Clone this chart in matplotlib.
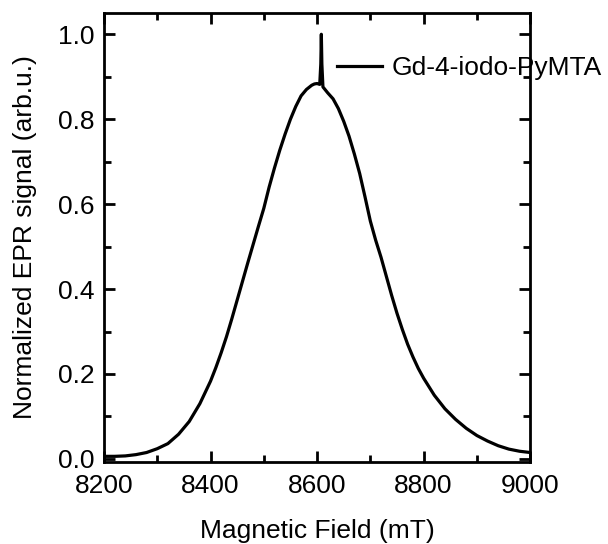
import matplotlib
matplotlib.use("Agg")
import matplotlib.pyplot as plt
from matplotlib.ticker import MultipleLocator

# values
field = [8200, 8220, 8240, 8260, 8280, 8300, 8320, 8340, 8360, 8380,
         8400, 8410, 8420, 8430, 8440, 8450, 8460, 8470, 8480, 8490,
         8500, 8510, 8520, 8530, 8540, 8550, 8560, 8570, 8580, 8590,
         8595, 8600, 8605, 8607, 8608, 8609, 8611, 8620, 8630, 8640,
         8650, 8660, 8670, 8680, 8690, 8700, 8710, 8720, 8730, 8740,
         8750, 8760, 8770, 8780, 8790, 8800, 8820, 8840, 8860, 8880,
         8900, 8920, 8940, 8960, 8980, 9000]
signal = [0.006, 0.006, 0.007, 0.010, 0.015, 0.024, 0.036, 0.058, 0.088, 0.130,
          0.183, 0.215, 0.250, 0.288, 0.330, 0.374, 0.418, 0.462, 0.505, 0.548,
          0.590, 0.640, 0.685, 0.727, 0.765, 0.800, 0.830, 0.855, 0.870, 0.880,
          0.883, 0.884, 0.882, 0.930, 1.000, 0.930, 0.876, 0.862, 0.848, 0.825,
          0.795, 0.760, 0.718, 0.672, 0.617, 0.560, 0.515, 0.475, 0.430, 0.385,
          0.343, 0.305, 0.270, 0.240, 0.213, 0.190, 0.150, 0.118, 0.093, 0.072,
          0.055, 0.042, 0.031, 0.023, 0.018, 0.015]
seriesName = "Gd-4-iodo-PyMTA"

plt.rcParams['font.family'] = ['Liberation Sans', 'DejaVu Sans']

fig = plt.figure(figsize=(6.08, 5.44), dpi=100)
ax = fig.add_axes([0.171, 0.151, 0.701, 0.825])

ax.plot(field, signal, color="black", linewidth=2.3, label=seriesName)

ax.set_xlim(8200, 9000)
ax.set_ylim(-0.007, 1.05)
ax.xaxis.set_major_locator(MultipleLocator(200))
ax.xaxis.set_minor_locator(MultipleLocator(100))
ax.yaxis.set_major_locator(MultipleLocator(0.2))
ax.yaxis.set_minor_locator(MultipleLocator(0.1))
ax.yaxis.set_major_formatter(plt.FormatStrFormatter("%.1f"))

ax.tick_params(which="both", direction="in", top=True, right=True, width=2, labelsize=19)
ax.tick_params(which="major", length=8)
ax.tick_params(which="minor", length=5)
ax.tick_params(axis="x", pad=9)
ax.tick_params(axis="y", pad=7)
for sp in ax.spines.values():
    sp.set_linewidth(2)

ax.set_xlabel("Magnetic Field (mT)", fontsize=19, labelpad=15)
ax.set_ylabel("Normalized EPR signal (arb.u.)", fontsize=19, labelpad=15)

leg = ax.legend(loc="center left", bbox_to_anchor=(0.547, 0.877), frameon=False,
                fontsize=19, borderpad=0, borderaxespad=0, handlelength=1.7,
                handletextpad=0.35)
for line in leg.get_lines():
    line.set_linewidth(2.3)

fig.savefig("out.png", dpi=100)
